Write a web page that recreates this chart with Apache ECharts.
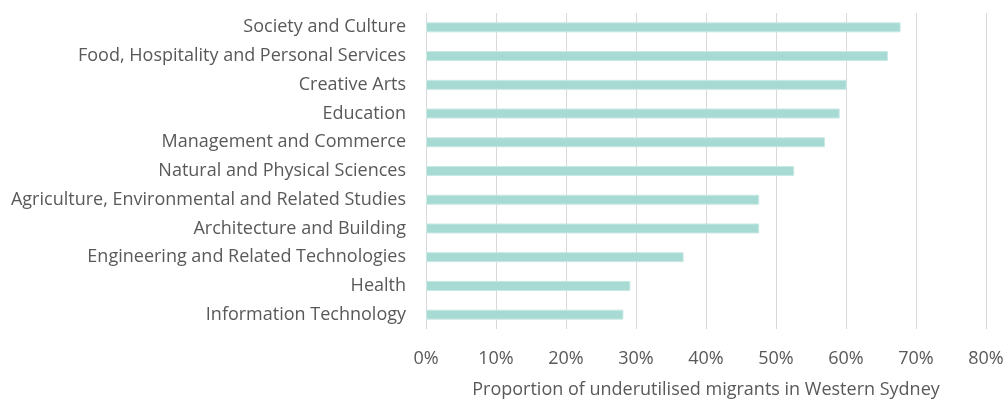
<!DOCTYPE html>
<html>
<head>
<meta charset="utf-8">
<script src="https://cdn.jsdelivr.net/npm/echarts@6/dist/echarts.min.js"></script>
<style>
  html, body { margin: 0; padding: 0; background: #fff; }
  #chart { width: 1006px; height: 399px; }
</style>
</head>
<body>
<div id="chart"></div>
<script>
// Fields of study, listed top to bottom
const categories = [
  'Society and Culture',
  'Food, Hospitality and Personal Services',
  'Creative Arts',
  'Education',
  'Management and Commerce',
  'Natural and Physical Sciences',
  'Agriculture, Environmental and Related Studies',
  'Architecture and Building',
  'Engineering and Related Technologies',
  'Health',
  'Information Technology'
];
// Share of underutilised migrants (%), same order
const values = [67.8, 66.0, 60.1, 59.1, 57.0, 52.6, 47.6, 47.6, 36.8, 29.2, 28.2];
const axisTitle = 'Proportion of underutilised migrants in Western Sydney';

const font = '"Open Sans", "Noto Sans", sans-serif';
const chart = echarts.init(document.getElementById('chart'));
chart.setOption({
  animation: false,
  grid: {
    left: 426, right: 20, top: 13, bottom: 70,
    containLabel: false,
    outerBoundsMode: 'none'
  },
  xAxis: {
    type: 'value',
    min: 0, max: 80, interval: 10,
    name: axisTitle,
    nameLocation: 'middle',
    nameGap: 52,
    nameTextStyle: { fontFamily: font, fontSize: 18, color: '#595959' },
    axisLine: { show: false },
    axisTick: { show: false },
    axisLabel: { formatter: '{value}%', fontFamily: font, fontSize: 18, color: '#595959', margin: 21 },
    splitLine: { lineStyle: { color: '#d9d9d9', width: 1 } }
  },
  yAxis: {
    type: 'category',
    data: categories,
    inverse: true,
    axisLine: { show: false },
    axisTick: { show: false },
    axisLabel: { fontFamily: font, fontSize: 18, color: '#595959', margin: 20, padding: [4, 0, 0, 0] }
  },
  series: [{
    type: 'bar',
    data: values,
    barWidth: 10,
    itemStyle: { color: '#a7dad3', borderColor: '#c9e9e4', borderWidth: 1 }
  }]
});
</script>
</body>
</html>
